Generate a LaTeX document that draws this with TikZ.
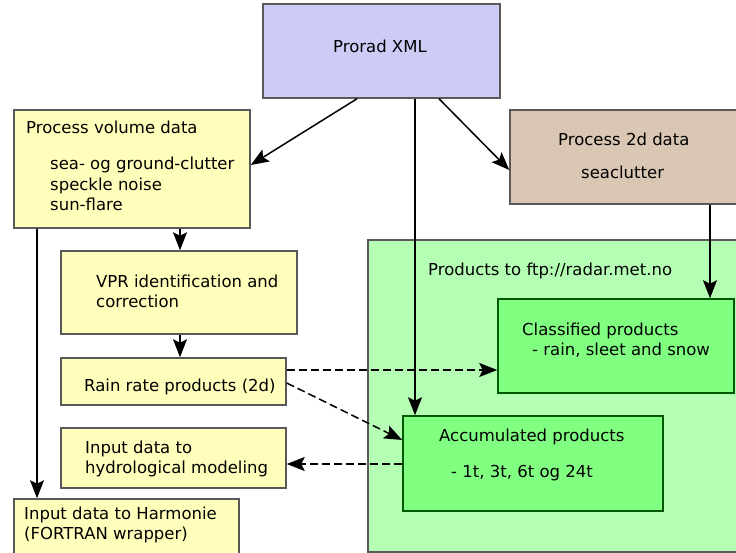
\documentclass[tikz,border=0pt]{standalone}
\usepackage{fontspec}
\setmainfont{DejaVu Sans}
\usepackage{tikz}
\usepackage{xcolor}
\usetikzlibrary{arrows.meta}

\definecolor{xmlblue}{RGB}{204,204,247}
\definecolor{volyellow}{RGB}{255,255,187}
\definecolor{tan2d}{RGB}{217,198,179}
\definecolor{ftpgreen}{RGB}{181,255,181}
\definecolor{prodgreen}{RGB}{128,255,128}

\begin{document}
\begin{tikzpicture}[x=1pt, y=-1pt,
    blk/.style={draw=black!65, line width=1.5pt, inner sep=0pt},
    prod/.style={draw=green!35!black, line width=1.5pt, inner sep=0pt, fill=prodgreen},
    txt/.style={anchor=base west, inner sep=0pt, align=left,
        font=\fontsize{16.5}{20.5}\selectfont},
    flow/.style={-{Stealth[length=18pt,width=14pt,inset=3.5pt]}, line width=1.5pt},
    dflow/.style={flow, dash pattern=on 8pt off 4pt}]
\clip (0,0) rectangle (736,553);
% boxes
\node[blk, fill=ftpgreen, minimum width=377, minimum height=312] (ftp) at (556.5,396) {};
\node[blk, fill=xmlblue, minimum width=237, minimum height=94] (prorad) at (381.5,51) {};
\node[blk, fill=volyellow, minimum width=236, minimum height=118] (vol) at (132,169) {};
\node[blk, fill=tan2d, minimum width=235, minimum height=94] (p2d) at (627.5,157) {};
\node[blk, fill=volyellow, minimum width=236, minimum height=83] (vpr) at (179,292.5) {};
\node[blk, fill=volyellow, minimum width=225, minimum height=47] (rain) at (173.5,381.5) {};
\node[blk, fill=volyellow, minimum width=225, minimum height=60] (hydro) at (173.5,458) {};
\node[blk, fill=volyellow, minimum width=225, minimum height=61] (harm) at (126.5,529.5) {};
\node[prod, minimum width=236, minimum height=94] (cls) at (616,346) {};
\node[prod, minimum width=260, minimum height=95] (acc) at (533,463.5) {};
% texts (multi-line: y is the last baseline)
\node[txt] (proradtxt) at (333,53) {Prorad XML};
\node[txt] (voltxt) at (26,134) {Process volume data};
\node[txt] (volsub) at (50,211) {sea- og ground-clutter\\speckle noise\\sun-flare};
\node[txt] (p2dtxt) at (558,146) {Process 2d data};
\node[txt] (p2dsub) at (581,179) {seaclutter};
\node[txt] (vprtxt) at (96,308) {VPR identification and\\correction};
\node[txt] (raintxt) at (84,391) {Rain rate products (2d)};
\node[txt] (hydrotxt) at (85,473.5) {Input data to\\hydrological modeling};
\node[txt] (harmtxt) at (24,539.5) {Input data to Harmonie\\(FORTRAN wrapper)};
\node[txt] (ftptxt) at (428,276) {Products to ftp://radar.met.no};
\node[txt] (clstxt) at (522,335) {Classified products};
\node[txt] (clssub) at (532,355) {- rain, sleet and snow};
\node[txt] (acctxt) at (439,441) {Accumulated products};
\node[txt] (accsub) at (451,477) {- 1t, 3t, 6t og 24t};
% arrows
\draw[flow] ([xshift=-24.5pt]prorad.south) -- ([yshift=4pt]vol.east);
\draw[flow] ([xshift=33.5pt]prorad.south) -- ([xshift=-118pt]acc.north);
\draw[flow] ([xshift=57.5pt]prorad.south) -- ([yshift=-13pt]p2d.west);
\draw[flow] ([xshift=82.5pt]p2d.south) -- ([xshift=94pt]cls.north);
\draw[flow] ([xshift=48pt]vol.south) -- ([xshift=1pt]vpr.north);
\draw[flow] ([xshift=1pt]vpr.south) -- ([xshift=6.5pt]rain.north);
\draw[flow] ([xshift=-95pt]vol.south) -- ([xshift=-89.5pt]harm.north);
\draw[dflow] ([yshift=11.5pt]rain.east) -- ([yshift=-24pt]cls.west);
\draw[dflow] ([yshift=-1.5pt]rain.east) -- ([yshift=23.5pt]acc.west);
\draw[dflow] ([yshift=-0.5pt]acc.west) -- ([yshift=-6pt]hydro.east);
\end{tikzpicture}
\end{document}
